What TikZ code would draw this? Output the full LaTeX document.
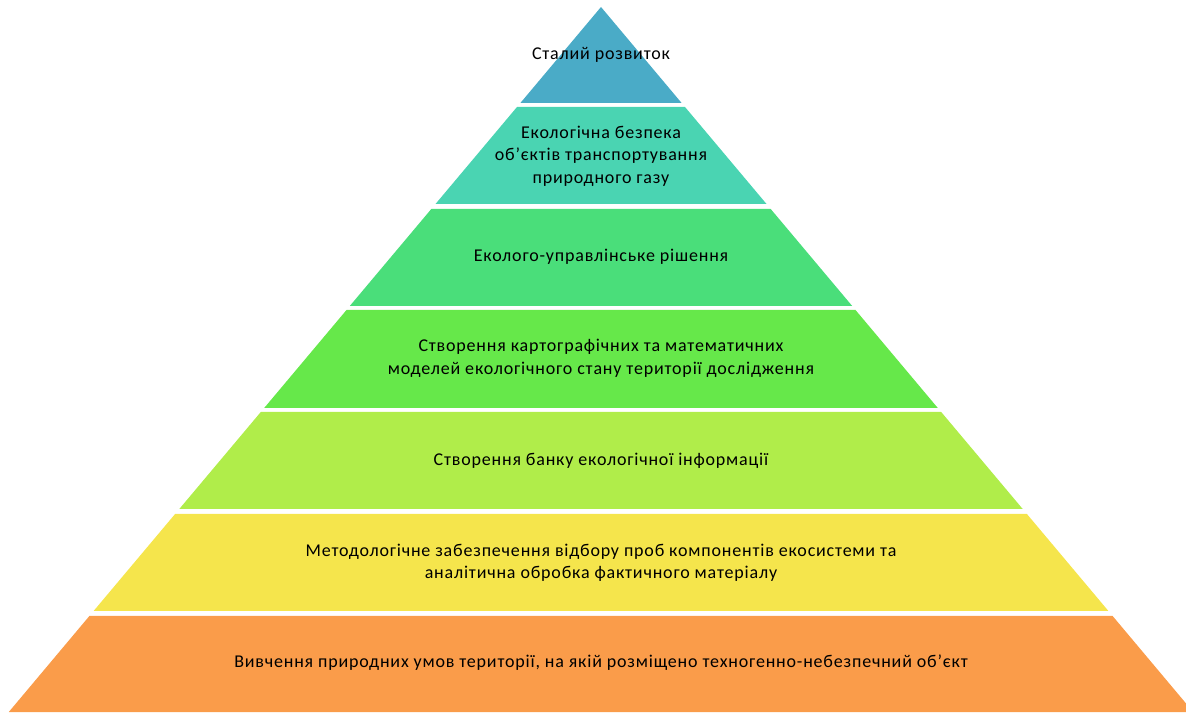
\documentclass[tikz,border=0pt]{standalone}
\usepackage{fontspec}
\setmainfont{Carlito}[LetterSpace=4.5]
\begin{document}
\begin{tikzpicture}[line join=bevel,
  layer/.style={draw=none},
  lbl/.style={align=center,text=black,font=\fontsize{18bp}{22.5bp}\selectfont,inner sep=0pt}]
\useasboundingbox (0bp,0bp) rectangle (1186bp,713bp);
\clip (0bp,0bp) rectangle (1186bp,713bp);
%%
\definecolor{c1}{rgb}{0.29,0.67,0.78}
\definecolor{c2}{rgb}{0.29,0.83,0.70}
\definecolor{c3}{rgb}{0.29,0.87,0.48}
\definecolor{c4}{rgb}{0.40,0.91,0.29}
\definecolor{c5}{rgb}{0.69,0.93,0.29}
\definecolor{c6}{rgb}{0.96,0.90,0.30}
\definecolor{c7}{rgb}{0.98,0.61,0.29}
  % Layer: l_1
  \fill [c1] (601bp,706bp) -- (681.6bp,610bp) -- (520.4bp,610bp) -- cycle;
  \node [lbl] (l1) at (601bp,658bp) {Сталий розвиток};
  % Layer: l_2
  \fill [c2] (517bp,606bp) -- (685bp,606bp) -- (766.5bp,509bp) -- (435.5bp,509bp) -- cycle;
  \node [lbl] (l2) at (601bp,557bp) {Екологічна безпека\\об’єктів транспортування\\природного газу};
  % Layer: l_3
  \fill [c3] (431.3bp,504bp) -- (770.7bp,504bp) -- (852.2bp,407bp) -- (349.8bp,407bp) -- cycle;
  \node [lbl] (l3) at (601bp,456bp) {Еколого-управлінське рішення};
  % Layer: l_4
  \fill [c4] (346.5bp,403bp) -- (855.5bp,403bp) -- (937.8bp,305bp) -- (264.2bp,305bp) -- cycle;
  \node [lbl] (l4) at (601bp,354.5bp) {Створення картографічних та математичних\\моделей екологічного стану території дослідження};
  % Layer: l_5
  \fill [c5] (260.8bp,301bp) -- (941.2bp,301bp) -- (1022.7bp,204bp) -- (179.3bp,204bp) -- cycle;
  \node [lbl] (l5) at (601bp,252bp) {Створення банку екологічної інформації};
  % Layer: l_6
  \fill [c6] (175.1bp,199bp) -- (1026.9bp,199bp) -- (1108.4bp,102bp) -- (93.6bp,102bp) -- cycle;
  \node [lbl] (l6) at (601bp,150bp) {Методологічне забезпечення відбору проб компонентів екосистеми та\\аналітична обробка фактичного матеріалу};
  % Layer: l_7
  \fill [c7] (89.4bp,97bp) -- (1112.6bp,97bp) -- (1193.2bp,1bp) -- (8.8bp,1bp) -- cycle;
  \node [lbl] (l7) at (601bp,50bp) {Вивчення природних умов території, на якій розміщено техногенно-небезпечний об’єкт};
%
\end{tikzpicture}
\end{document}
